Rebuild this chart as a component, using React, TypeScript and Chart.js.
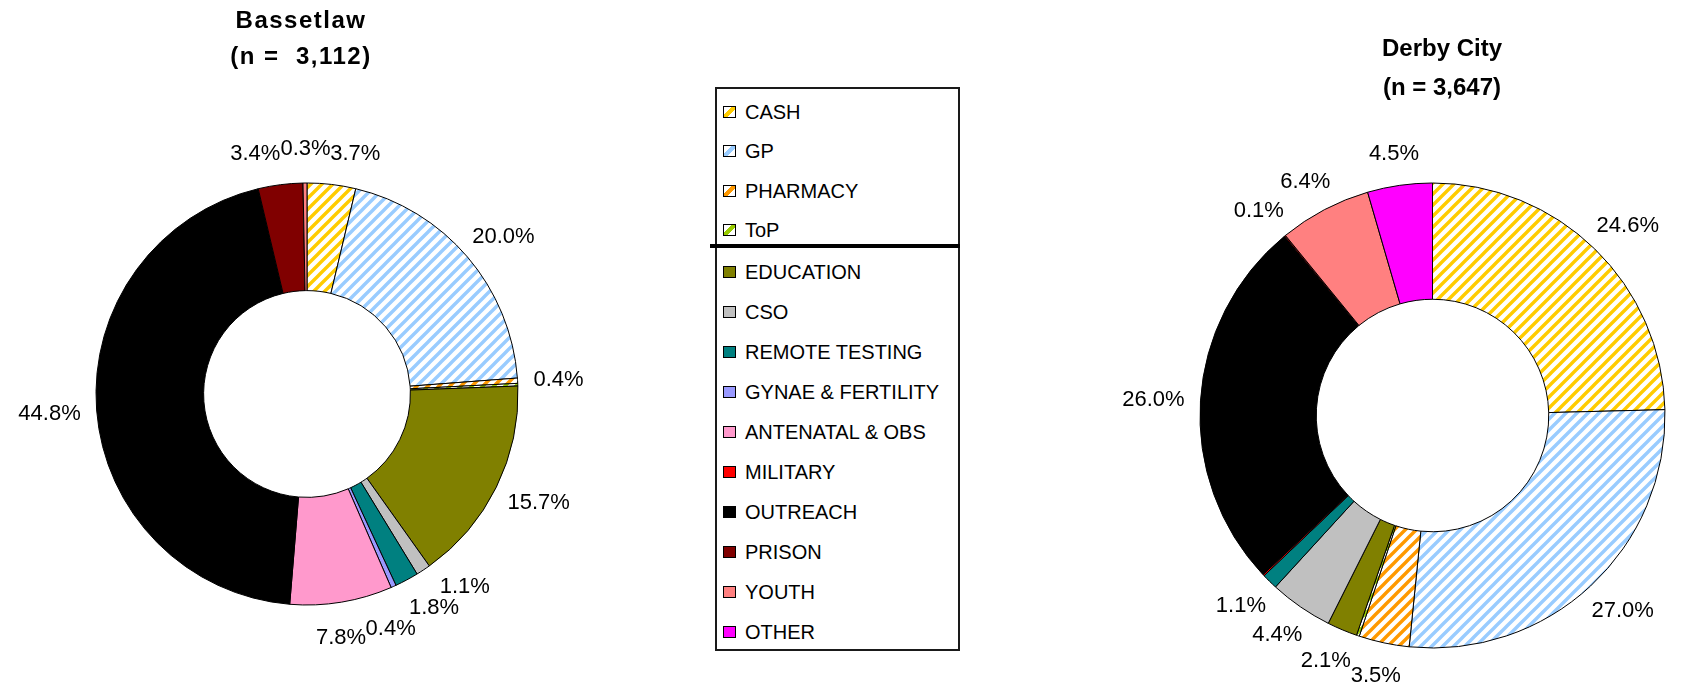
import React, { useEffect, useRef } from 'react';
import { Chart, registerables } from 'chart.js';

Chart.register(...registerables);

// ---------- data ----------
const categories = [
  'CASH', 'GP', 'PHARMACY', 'ToP', 'EDUCATION', 'CSO', 'REMOTE TESTING',
  'GYNAE & FERTILITY', 'ANTENATAL & OBS', 'MILITARY', 'OUTREACH', 'PRISON', 'YOUTH', 'OTHER',
];
const bassetlawValues = [3.7, 20.0, 0.4, 0.2, 15.7, 1.1, 1.8, 0.4, 7.8, 0, 44.8, 3.4, 0.3, 0];
const derbyValues = [24.6, 27.0, 3.5, 0.2, 2.1, 4.4, 1.1, 0, 0, 0.1, 26.0, 0.1, 6.4, 4.5];
const bassetlawHiddenLabels = ['ToP'];
const derbyHiddenLabels = ['ToP', 'MILITARY'];
const bassetlawTitle = ['Bassetlaw', '(n =  3,112)'];
const derbyTitle = ['Derby City', '(n = 3,647)'];

// ---------- styles ----------
const categoryColors = [
  '#FFCC00', '#99CCFF', '#FF9900', '#99CC00', '#808000', '#C0C0C0', '#008080',
  '#9999FF', '#FF99CC', '#FF0000', '#000000', '#800000', '#FF8080', '#FF00FF',
];
const hatchedCategories = ['CASH', 'GP', 'PHARMACY', 'ToP'];
const FONT = '"Liberation Sans", Arial, Helvetica, sans-serif';

function makePattern(color: string): CanvasPattern | string {
  const s = 11;
  const c = document.createElement('canvas');
  c.width = s;
  c.height = s;
  const g = c.getContext('2d');
  if (!g) return color;
  g.fillStyle = '#ffffff';
  g.fillRect(0, 0, s, s);
  g.strokeStyle = color;
  g.lineWidth = 3.4;
  g.beginPath();
  g.moveTo(0, s);
  g.lineTo(s, 0);
  g.moveTo(-s / 2, s / 2);
  g.lineTo(s / 2, -s / 2);
  g.moveTo(s / 2, s * 1.5);
  g.lineTo(s * 1.5, s / 2);
  g.stroke();
  return g.createPattern(c, 'repeat') || color;
}

function normAngle(a: number) {
  while (a > Math.PI) a -= Math.PI * 2;
  while (a <= -Math.PI) a += Math.PI * 2;
  return a;
}

const outsideLabels = {
  id: 'outsideLabels',
  afterDatasetsDraw(chart: any, _args: any, opts: any) {
    const ctx: CanvasRenderingContext2D = chart.ctx;
    const meta = chart.getDatasetMeta(0);
    const data = chart.data.datasets[0].data as number[];
    const labels = chart.data.labels as string[];
    ctx.save();
    ctx.font = `${opts.fontSize}px ${FONT}`;
    const boxes: any[] = [];
    meta.data.forEach((arc: any, i: number) => {
      const v = data[i];
      if (!v || opts.hidden.includes(labels[i])) return;
      const p = arc.getProps(['x', 'y', 'startAngle', 'endAngle', 'outerRadius'], true);
      const mid = (p.startAngle + p.endAngle) / 2;
      const text = v.toFixed(1) + '%';
      const w = ctx.measureText(text).width;
      const r = p.outerRadius + opts.gap;
      boxes.push({
        text,
        mid,
        w,
        h: opts.boxHeight,
        cx: p.x + Math.cos(mid) * (r + w / 2),
        cy: p.y + Math.sin(mid) * (r + opts.offsetHeight / 2),
      });
    });
    // push overlapping labels apart along the ring's tangent
    for (let it = 0; it < 600; it++) {
      let moved = false;
      for (let a = 0; a < boxes.length; a++) {
        for (let b = a + 1; b < boxes.length; b++) {
          const A = boxes[a];
          const B = boxes[b];
          const ox = (A.w + B.w) / 2 - Math.abs(A.cx - B.cx);
          const oy = (A.h + B.h) / 2 - Math.abs(A.cy - B.cy);
          if (ox > 0.5 && oy > 0.5) {
            moved = true;
            const diff = normAngle(B.mid - A.mid);
            const avg = A.mid + diff / 2;
            const tx = -Math.sin(avg);
            const ty = Math.cos(avg);
            const sgn = diff >= 0 ? 1 : -1;
            const step = 0.5;
            B.cx += tx * step * sgn;
            B.cy += ty * step * sgn;
            A.cx -= tx * step * sgn;
            A.cy -= ty * step * sgn;
          }
        }
      }
      if (!moved) break;
    }
    ctx.fillStyle = '#000';
    ctx.textAlign = 'center';
    ctx.textBaseline = 'middle';
    boxes.forEach((b) => ctx.fillText(b.text, b.cx, b.cy + 1));

    // title
    ctx.font = `bold ${opts.titleSize}px ${FONT}`;
    (ctx as any).letterSpacing = `${opts.titleSpacing}px`;
    opts.title.forEach((line: string, i: number) => {
      ctx.fillText(line, opts.titleX, opts.titleY[i]);
    });
    ctx.restore();
  },
};

function makeConfig(values: number[], hidden: string[], o: any): any {
  const bg = categories.map((c, i) =>
    hatchedCategories.includes(c) ? makePattern(categoryColors[i]) : categoryColors[i]
  );
  return {
    type: 'doughnut',
    data: {
      labels: categories,
      datasets: [
        {
          data: values,
          backgroundColor: bg,
          borderColor: '#000000',
          borderWidth: (c: any) => (c.raw ? 1 : 0),
          hoverOffset: 0,
        },
      ],
    },
    options: {
      animation: false,
      responsive: true,
      maintainAspectRatio: false,
      events: [],
      radius: o.radius,
      cutout: o.cutout,
      layout: { padding: o.padding },
      plugins: {
        legend: { display: false },
        tooltip: { enabled: false },
        title: { display: false },
        outsideLabels: {
          hidden,
          fontSize: 22,
          boxHeight: 21,
          offsetHeight: 34,
          gap: 16,
          title: o.title,
          titleX: o.titleX,
          titleY: o.titleY,
          titleSize: 24,
          titleSpacing: o.titleSpacing,
        },
      },
    },
    plugins: [outsideLabels],
  };
}

function DonutChart(props: { values: number[]; hidden: string[]; o: any; style: React.CSSProperties }) {
  const ref = useRef<HTMLCanvasElement | null>(null);
  useEffect(() => {
    if (!ref.current) return;
    const chart = new Chart(ref.current, makeConfig(props.values, props.hidden, props.o));
    return () => chart.destroy();
  }, []);
  return (
    <div style={{ position: 'absolute', ...props.style }}>
      <canvas ref={ref} />
    </div>
  );
}

function swatchBackground(cat: string, color: string) {
  if (hatchedCategories.includes(cat)) {
    return `linear-gradient(135deg, #ffffff 36%, ${color} 36%, ${color} 64%, #ffffff 64%)`;
  }
  return color;
}

function legendRowCenter(i: number) {
  return i < 4 ? 111.5 + 39.5 * i : 272 + 40 * (i - 4);
}

export default function App() {
  useEffect(() => {
    document.body.style.margin = '0';
  }, []);
  return (
    <div style={{ position: 'relative', width: 1686, height: 690, background: '#fff', overflow: 'hidden' }}>
      <DonutChart
        values={bassetlawValues}
        hidden={bassetlawHiddenLabels}
        style={{ left: 0, top: 0, width: 700, height: 690 }}
        o={{
          radius: 211,
          cutout: '49%',
          padding: { left: 96, right: 182, top: 183, bottom: 85 },
          title: bassetlawTitle,
          titleX: 301,
          titleY: [21, 57],
          titleSpacing: 1.5,
        }}
      />
      <DonutChart
        values={derbyValues}
        hidden={derbyHiddenLabels}
        style={{ left: 1000, top: 0, width: 686, height: 690 }}
        o={{
          radius: 232.5,
          cutout: '50%',
          padding: { left: 200, right: 21, top: 183, bottom: 42 },
          title: derbyTitle,
          titleX: 442,
          titleY: [49, 88],
          titleSpacing: 0,
        }}
      />
      {/* legend */}
      <div
        style={{
          position: 'absolute',
          left: 715,
          top: 87,
          width: 245,
          height: 564,
          border: '2px solid #1a1a1a',
          boxSizing: 'border-box',
          background: '#fff',
        }}
      />
      <div style={{ position: 'absolute', left: 710, top: 244, width: 250, height: 4, background: '#000' }} />
      {categories.map((cat, i) => {
        const cy = legendRowCenter(i);
        return (
          <React.Fragment key={cat}>
            <div
              style={{
                position: 'absolute',
                left: 723,
                top: cy - 6,
                width: 13,
                height: 12,
                boxSizing: 'border-box',
                border: '1px solid #000',
                background: swatchBackground(cat, categoryColors[i]),
              }}
            />
            <div
              style={{
                position: 'absolute',
                left: 745,
                top: cy - 11,
                height: 22,
                lineHeight: '22px',
                fontFamily: FONT,
                fontSize: 20,
                color: '#000',
                whiteSpace: 'nowrap',
              }}
            >
              {cat}
            </div>
          </React.Fragment>
        );
      })}
    </div>
  );
}
